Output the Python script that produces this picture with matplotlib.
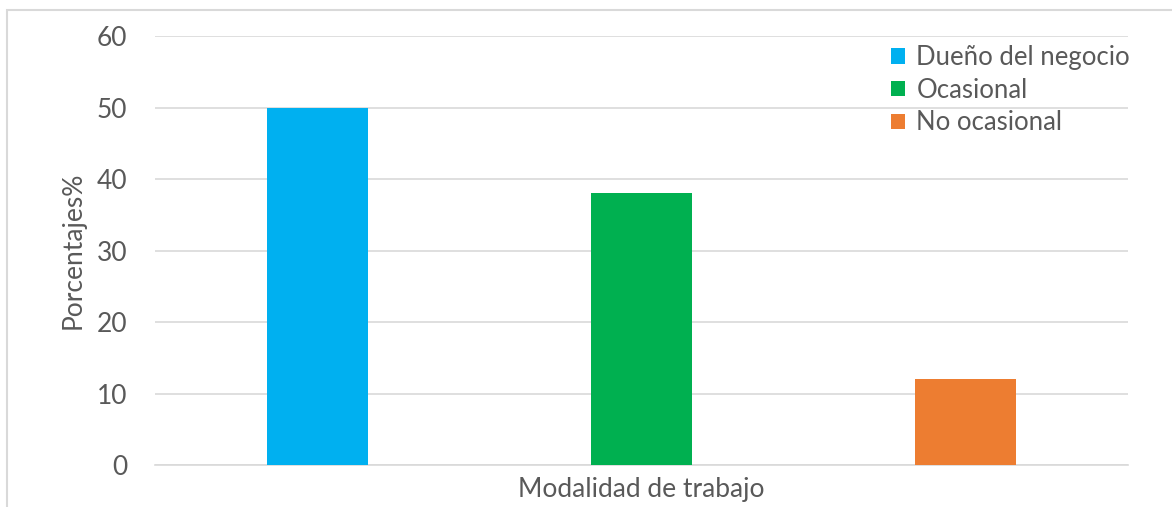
import matplotlib.pyplot as plt
from matplotlib.patches import Rectangle

categories = ["Dueño del negocio", "Ocasional", "No ocasional"]
values = [50, 38, 12]
colors = ["#00B0F0", "#00B050", "#ED7D31"]
y_ticks = [0, 10, 20, 30, 40, 50, 60]

plt.rcParams["font.family"] = ["Lato", "DejaVu Sans"]
text_color = "#595959"
grid_color = "#D9D9D9"

fig = plt.figure(figsize=(11.72, 5.07), dpi=100)
ax = fig.add_axes([155 / 1172, 1 - 465 / 507, (1128 - 155) / 1172, (465 - 36) / 507])

# chart frame, cropped at the right and bottom like the source
fig.patches.append(Rectangle((7 / 1172, -0.1), 1.2, 1.1 - 10 / 507, transform=fig.transFigure,
                             fill=False, edgecolor=grid_color, linewidth=1.5))

for i, (cat, val, col) in enumerate(zip(categories, values, colors)):
    ax.bar(i - 1, val, width=0.312, color=col, label=cat, zorder=3)

ax.set_xlim(-1.5, 1.5)
ax.set_ylim(0, 60)
ax.set_yticks(y_ticks)
ax.set_xticks([])
ax.yaxis.grid(True, color=grid_color, linewidth=1.2, zorder=0)
ax.set_axisbelow(True)
for side in ["top", "right", "left"]:
    ax.spines[side].set_visible(False)
ax.spines["bottom"].set_color(grid_color)
ax.spines["bottom"].set_linewidth(1.2)
ax.tick_params(axis="y", length=0, pad=20, labelsize=19, labelcolor=text_color)

ax.set_xlabel("Modalidad de trabajo", fontsize=19, color=text_color, labelpad=9)
ax.set_ylabel("Porcentajes%", fontsize=19, color=text_color, va="center")
ax.yaxis.set_label_coords((73 - 155) / 973, 0.5)

ax.legend(loc="upper left", bbox_to_anchor=((888 - 155) / 973, 0.985), frameon=False, fontsize=18.5,
          labelcolor=text_color, handlelength=0.55, handleheight=0.55, handletextpad=0.45,
          labelspacing=0.3, borderpad=0.1, borderaxespad=0)

fig.savefig("out.png", dpi=100)
